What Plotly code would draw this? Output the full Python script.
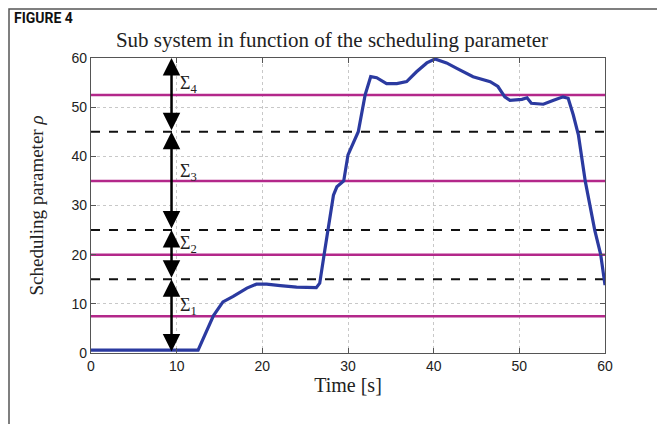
import plotly.graph_objects as go

# ---- data ----
time_s = [0, 12.5, 14.3, 15.4, 16.6, 18.2, 19.3, 20.5, 22.1, 24.0, 26.3, 26.7, 27.3,
          28.3, 28.7, 29.5, 30.0, 31.2, 32.0, 32.65, 33.35, 34.5, 35.7, 36.85, 38.0,
          39.2, 40.15, 41.5, 42.7, 44.6, 46.6, 47.5, 48.3, 48.9, 50.3, 50.9, 51.4,
          52.8, 54.0, 55.1, 55.7, 56.3, 56.9, 57.7, 58.8, 59.5, 60]
rho = [0.6, 0.6, 7.6, 10.4, 11.5, 13.2, 14.0, 14.0, 13.7, 13.4, 13.3, 14.2, 21.0,
       32.1, 33.8, 35.0, 40.3, 45.0, 52.5, 56.2, 56.0, 54.8, 54.8, 55.2, 57.2,
       59.0, 59.8, 59.0, 57.9, 56.2, 55.2, 54.2, 52.1, 51.4, 51.6, 51.9, 50.8,
       50.6, 51.4, 52.1, 51.8, 48.4, 44.3, 34.9, 25.0, 20.0, 13.8]

magenta_levels = [7.5, 20, 35, 52.5]
dashed_levels = [15, 25, 45]
region_bounds = [0, 15, 25, 45, 60]
region_names = ["Σ<sub>1</sub>", "Σ<sub>2</sub>", "Σ<sub>3</sub>", "Σ<sub>4</sub>"]
region_label_y = [9.5, 22.0, 36.7, 54.7]
arrow_x = 9.4
label_x = 10.1

x_ticks = [0, 10, 20, 30, 40, 50, 60]
y_ticks = [0, 10, 20, 30, 40, 50, 60]

SERIF = "Liberation Serif, DejaVu Serif, serif"
SANS = "Liberation Sans, Arial, sans-serif"

# page body has an 8px margin: figure is sized to fit inside it
FIG_W, FIG_H = 657, 416

fig = go.Figure()

for lv in magenta_levels:
    fig.add_trace(go.Scatter(x=[0, 60], y=[lv, lv], mode="lines",
                             line=dict(color="#b3288a", width=2.5),
                             hoverinfo="skip", showlegend=False))
for lv in dashed_levels:
    fig.add_trace(go.Scatter(x=[0, 60], y=[lv, lv], mode="lines",
                             line=dict(color="#111111", width=2, dash="dash"),
                             hoverinfo="skip", showlegend=False))

fig.add_trace(go.Scatter(x=time_s, y=rho, mode="lines",
                         line=dict(color="#2b3aa0", width=3.2),
                         showlegend=False))

annotations = []
for i in range(len(region_bounds) - 1):
    annotations.append(dict(
        x=arrow_x, y=region_bounds[i + 1], ax=arrow_x, ay=region_bounds[i],
        xref="x", yref="y", axref="x", ayref="y",
        text="", showarrow=True, arrowside="end+start",
        arrowhead=2, startarrowhead=2, arrowsize=1.4, startarrowsize=1.4,
        arrowwidth=2.5, arrowcolor="#000000"))
for name, ly in zip(region_names, region_label_y):
    annotations.append(dict(
        x=label_x, y=ly, xref="x", yref="y", text=name, showarrow=False,
        xanchor="left", yanchor="middle",
        font=dict(family=SERIF, size=18, color="#222222")))

annotations.append(dict(
    x=(12 - 91) / 514, y=(353 - 18) / 295, xref="paper", yref="paper",
    text="<b>FIGURE 4</b>",
    showarrow=False, xanchor="left", yanchor="middle",
    font=dict(family="Liberation Sans Narrow, Roboto, Liberation Sans, sans-serif",
              size=14, color="#111111")))

fig.update_layout(
    width=FIG_W, height=FIG_H,
    margin=dict(l=83, r=60, t=50, b=71, autoexpand=False),
    paper_bgcolor="white", plot_bgcolor="white",
    title=dict(text="Sub system in function of the scheduling parameter",
               x=324 / FIG_W, xanchor="center", xref="container",
               y=1 - 32 / FIG_H, yanchor="middle", yref="container",
               font=dict(family=SERIF, size=21, color="#222222")),
    annotations=annotations,
    shapes=[dict(type="rect", xref="paper", yref="paper",
                 x0=(9 - 91) / 514, x1=(658 - 91) / 514,
                 y0=(353 - 440) / 295, y1=(353 - 9) / 295,
                 line=dict(color="#555555", width=1.5), layer="below")],
    xaxis=dict(range=[0, 60], tickvals=x_ticks, ticktext=[str(v) for v in x_ticks],
               automargin=False,
               showgrid=True, gridcolor="#c8c8c8", griddash="dot", gridwidth=1,
               showline=True, linecolor="#555555", linewidth=1.2, mirror="ticks",
               ticks="inside", ticklen=5, tickcolor="#555555", zeroline=False,
               tickfont=dict(family=SANS, size=14, color="#222222"),
               title=dict(text="Time [s]", standoff=5,
                          font=dict(family=SERIF, size=20, color="#222222"))),
    yaxis=dict(range=[0, 60], tickvals=y_ticks, ticktext=[str(v) for v in y_ticks],
               automargin=False,
               showgrid=True, gridcolor="#c8c8c8", griddash="dot", gridwidth=1,
               showline=True, linecolor="#555555", linewidth=1.2, mirror="ticks",
               ticks="inside", ticklen=5, tickcolor="#555555", zeroline=False,
               tickfont=dict(family=SANS, size=14, color="#222222"),
               title=dict(text="Scheduling parameter <i>ρ</i>", standoff=22,
                          font=dict(family=SERIF, size=19, color="#222222"))),
)

fig.write_html("out.html")
